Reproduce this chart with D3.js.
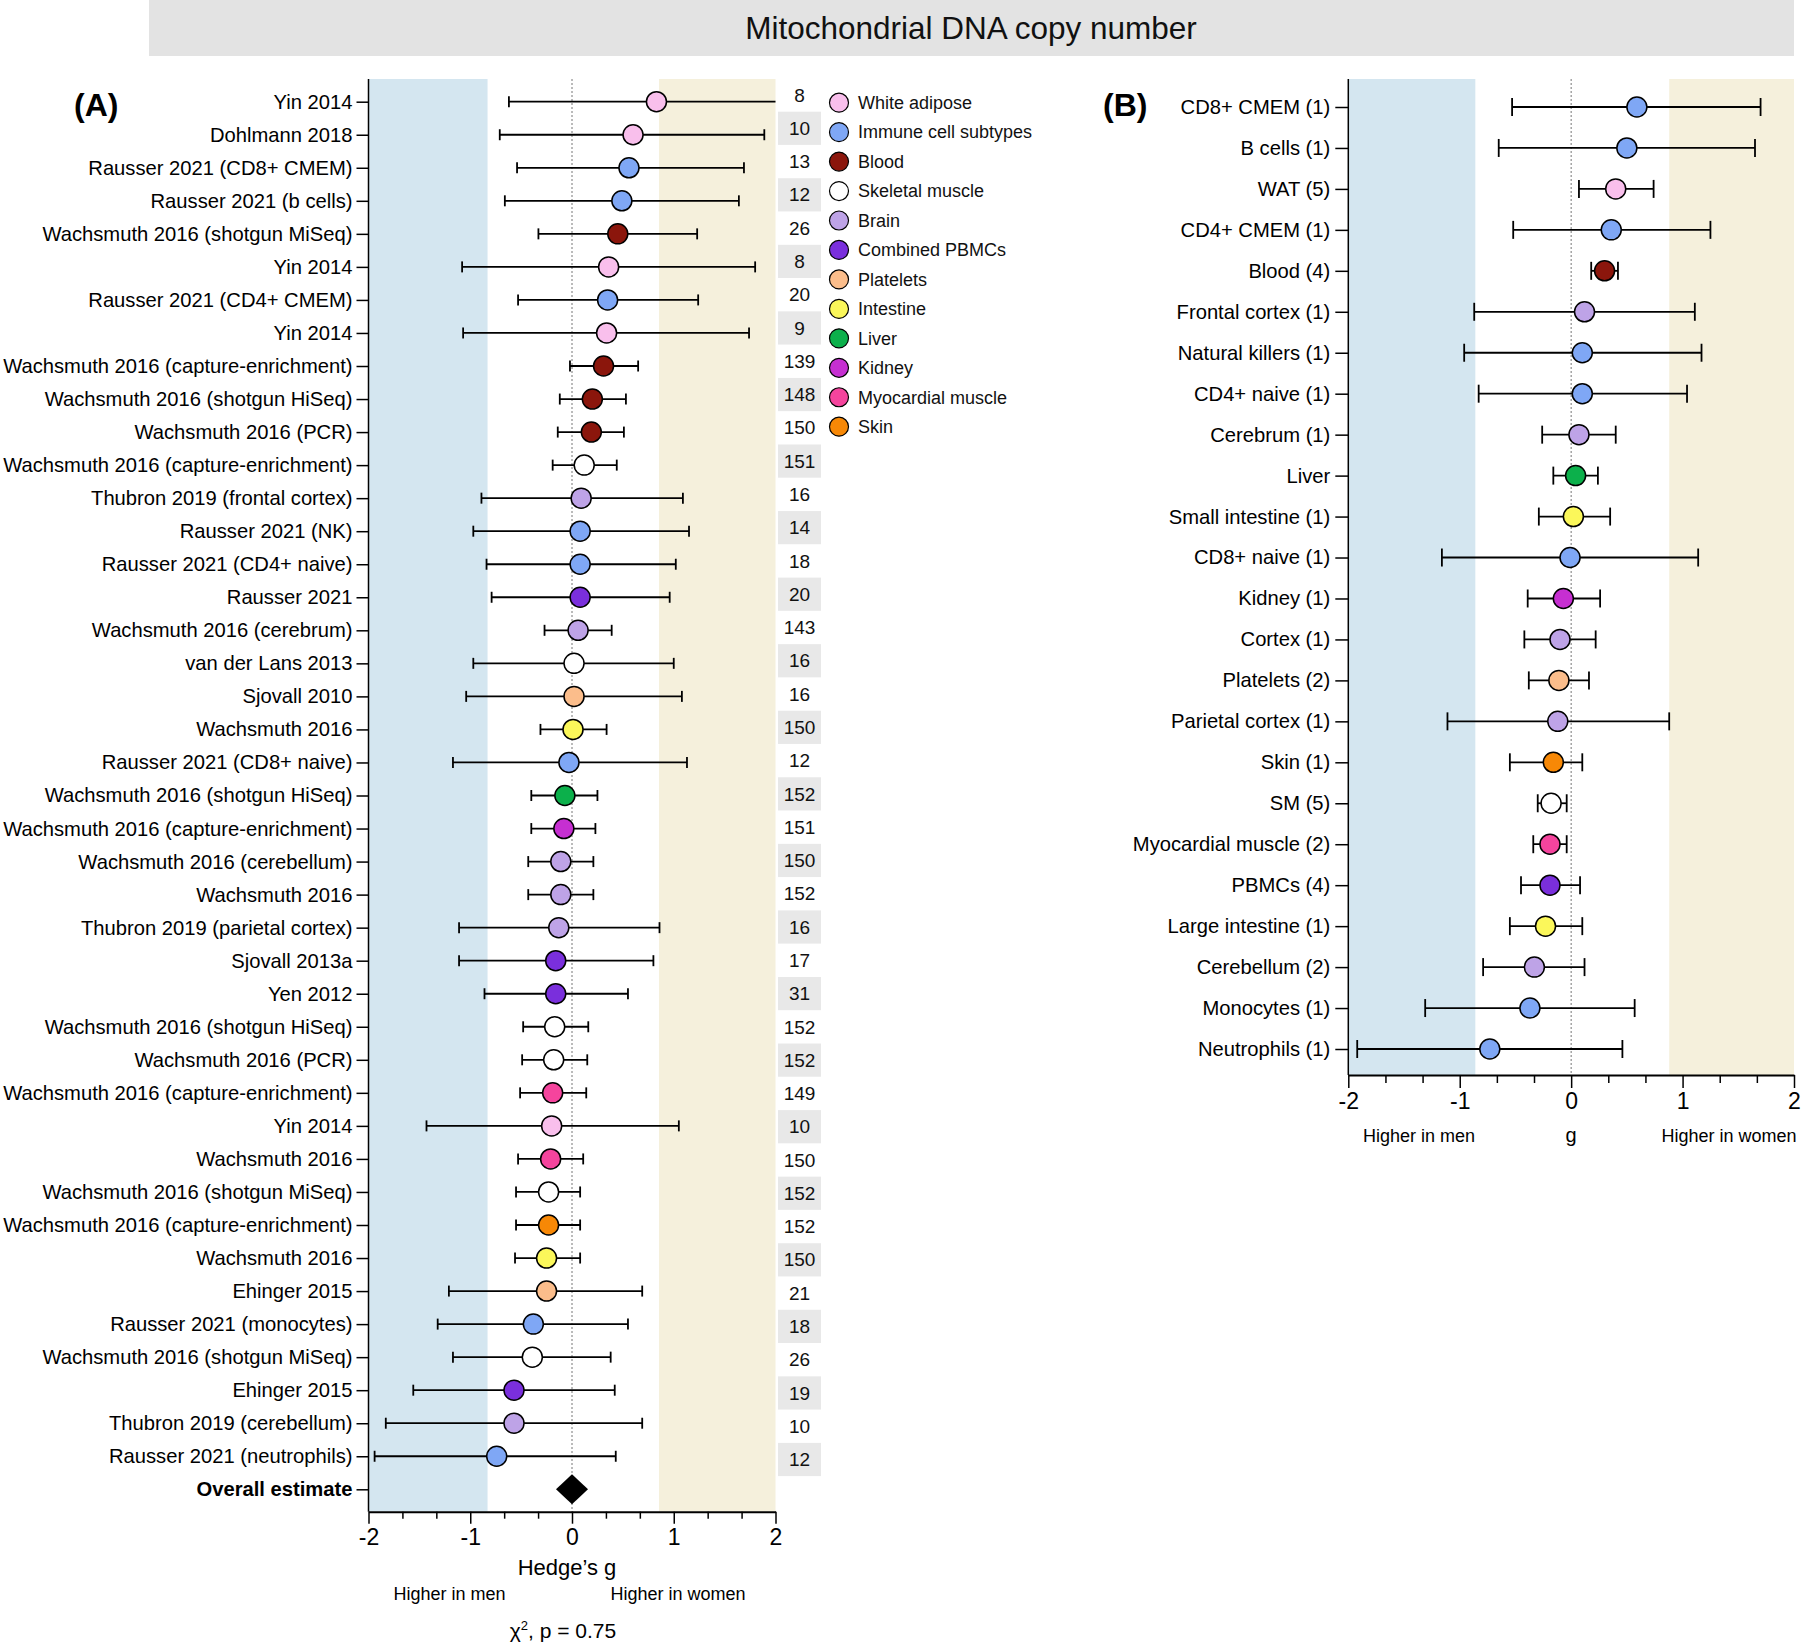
<!DOCTYPE html>
<html>
<head>
<meta charset="utf-8">
<script src="https://cdn.jsdelivr.net/npm/d3@7"></script>
<style>
  html, body { margin: 0; padding: 0; background: #fff; }
  svg { display: block; font-family: "Liberation Sans", Arial, Helvetica, sans-serif; }
</style>
</head>
<body>
<svg id="chart" width="1801" height="1643"></svg>
<script>
// ---------- DATA ----------
const tissues = ["White adipose","Immune cell subtypes","Blood","Skeletal muscle","Brain","Combined PBMCs","Platelets","Intestine","Liver","Kidney","Myocardial muscle","Skin"];
const tissueColors = ["#f9bfec","#7fa7f5","#8b160c","#ffffff","#bea3e7","#7a2fdc","#fbbd8b","#fbf75a","#0cb04b","#c62fd1","#f5449d","#f78806"];

const studyLabels = [
  "Yin 2014","Dohlmann 2018","Rausser 2021 (CD8+ CMEM)","Rausser 2021 (b cells)","Wachsmuth 2016 (shotgun MiSeq)",
  "Yin 2014","Rausser 2021 (CD4+ CMEM)","Yin 2014","Wachsmuth 2016 (capture-enrichment)","Wachsmuth 2016 (shotgun HiSeq)",
  "Wachsmuth 2016 (PCR)","Wachsmuth 2016 (capture-enrichment)","Thubron 2019 (frontal cortex)","Rausser 2021 (NK)","Rausser 2021 (CD4+ naive)",
  "Rausser 2021","Wachsmuth 2016 (cerebrum)","van der Lans 2013","Sjovall 2010","Wachsmuth 2016",
  "Rausser 2021 (CD8+ naive)","Wachsmuth 2016 (shotgun HiSeq)","Wachsmuth 2016 (capture-enrichment)","Wachsmuth 2016 (cerebellum)","Wachsmuth 2016",
  "Thubron 2019 (parietal cortex)","Sjovall 2013a","Yen 2012","Wachsmuth 2016 (shotgun HiSeq)","Wachsmuth 2016 (PCR)",
  "Wachsmuth 2016 (capture-enrichment)","Yin 2014","Wachsmuth 2016","Wachsmuth 2016 (shotgun MiSeq)","Wachsmuth 2016 (capture-enrichment)",
  "Wachsmuth 2016","Ehinger 2015","Rausser 2021 (monocytes)","Wachsmuth 2016 (shotgun MiSeq)","Ehinger 2015",
  "Thubron 2019 (cerebellum)","Rausser 2021 (neutrophils)"
];
const studyTissue = [0,0,1,1,2, 0,1,0,2,2, 2,3,4,1,1, 5,4,3,6,7, 1,8,9,4,4, 4,5,5,3,3, 10,0,10,3,11, 7,6,1,3,5, 4,1];
const studyG  = [0.83,0.60,0.56,0.49,0.45, 0.36,0.35,0.34,0.31,0.20, 0.19,0.12,0.09,0.08,0.08, 0.08,0.06,0.02,0.02,0.01,
                 -0.03,-0.07,-0.08,-0.11,-0.11, -0.13,-0.16,-0.16,-0.17,-0.18, -0.19,-0.20,-0.21,-0.23,-0.23, -0.25,-0.25,-0.38,-0.39,-0.57, -0.57,-0.74];
const studyLo = [-0.62,-0.71,-0.54,-0.66,-0.33, -1.08,-0.53,-1.07,-0.02,-0.12, -0.14,-0.19,-0.89,-0.97,-0.84, -0.79,-0.27,-0.97,-1.04,-0.31,
                 -1.17,-0.40,-0.40,-0.43,-0.43, -1.11,-1.11,-0.86,-0.48,-0.49, -0.51,-1.43,-0.53,-0.55,-0.55, -0.56,-1.21,-1.32,-1.17,-1.56, -1.83,-1.94];
const studyHi = [2.30,1.89,1.69,1.64,1.23, 1.80,1.24,1.74,0.65,0.53, 0.51,0.44,1.09,1.15,1.02, 0.96,0.39,1.00,1.08,0.34,
                 1.13,0.25,0.23,0.21,0.21, 0.86,0.80,0.55,0.16,0.15, 0.14,1.05,0.11,0.08,0.08, 0.08,0.69,0.55,0.38,0.42, 0.69,0.43];
const studyN  = [8,10,13,12,26, 8,20,9,139,148, 150,151,16,14,18, 20,143,16,16,150, 12,152,151,150,152, 16,17,31,152,152, 149,10,150,152,152, 150,21,18,26,19, 10,12];
const overallLabel = "Overall estimate";
const overallG = 0.0;

const groupLabels = ["CD8+ CMEM (1)","B cells (1)","WAT (5)","CD4+ CMEM (1)","Blood (4)","Frontal cortex (1)","Natural killers (1)","CD4+ naive (1)",
  "Cerebrum (1)","Liver","Small intestine (1)","CD8+ naive (1)","Kidney (1)","Cortex (1)","Platelets (2)","Parietal cortex (1)",
  "Skin (1)","SM (5)","Myocardial muscle (2)","PBMCs (4)","Large intestine (1)","Cerebellum (2)","Monocytes (1)","Neutrophils (1)"];
const groupTissue = [1,1,0,1,2,4,1,1, 4,8,7,1,9,4,6,4, 11,3,10,5,7,4,1,1];
const groupG  = [0.59,0.50,0.40,0.36,0.30,0.12,0.10,0.10, 0.07,0.04,0.02,-0.01,-0.07,-0.10,-0.11,-0.12, -0.16,-0.18,-0.19,-0.19,-0.23,-0.33,-0.37,-0.73];
const groupLo = [-0.53,-0.65,0.07,-0.52,0.18,-0.87,-0.96,-0.83, -0.26,-0.16,-0.29,-1.16,-0.39,-0.42,-0.38,-1.11, -0.55,-0.30,-0.34,-0.45,-0.55,-0.79,-1.31,-1.92];
const groupHi = [1.70,1.65,0.74,1.25,0.42,1.11,1.17,1.04, 0.40,0.24,0.35,1.14,0.26,0.22,0.16,0.88, 0.10,-0.04,-0.04,0.08,0.10,0.12,0.57,0.46];

const xTicks = [-2,-1,0,1,2];
const xTickLabels = ["-2","-1","0","1","2"];
const shadeA = [[-2,-0.83,"#d4e6f0"],[0.855,2,"#f5f0dc"]];
const shadeB = [[-2,-0.86,"#d4e6f0"],[0.88,2,"#f5f0dc"]];

// ---------- DRAW ----------
const svg = d3.select("#chart");

// Title bar
svg.append("rect").attr("x",149).attr("y",0).attr("width",1645).attr("height",56).attr("fill","#e3e3e3");
svg.append("text").attr("x",971).attr("y",39).attr("text-anchor","middle").attr("font-size",31.5).attr("fill","#111")
  .text("Mitochondrial DNA copy number");

function panel(opts) {
  const g = svg.append("g");
  const x = d3.scaleLinear().domain([-2,2]).range(opts.xr);
  const rows = d3.range(opts.labels.length);
  const y = d3.scalePoint().domain(rows).range(opts.yr);
  const top = opts.top, bot = opts.bot;

  g.selectAll("rect.shade").data(opts.shade).join("rect")
    .attr("x", d => x(d[0])).attr("width", d => x(d[1]) - x(d[0]))
    .attr("y", top).attr("height", bot - top).attr("fill", d => d[2]);

  g.append("line").attr("x1",x(0)).attr("x2",x(0)).attr("y1",top).attr("y2",bot)
    .attr("stroke","#777").attr("stroke-width",1).attr("stroke-dasharray","2,2");

  const minor = d3.range(-2, 2.0001, 1/3).filter(v => Math.abs(v - Math.round(v)) > 1e-6);
  g.append("g").attr("transform",`translate(0,${bot})`)
    .call(d3.axisBottom(x).tickValues(minor).tickSize(opts.minorTick).tickFormat(""))
    .call(a => a.select(".domain").remove())
    .call(a => a.selectAll("line").attr("stroke","#000").attr("stroke-width",1.5));
  g.append("g").attr("transform",`translate(0,${bot})`)
    .call(d3.axisBottom(x).tickValues(xTicks).tickSize(opts.majorTick).tickPadding(opts.tickPad).tickSizeOuter(0)
      .tickFormat((d,i) => xTickLabels[i]))
    .call(a => a.select(".domain").attr("stroke","#000").attr("stroke-width",2))
    .call(a => a.selectAll("line").attr("stroke","#000").attr("stroke-width",1.5))
    .call(a => a.selectAll("text").attr("font-size",opts.tickFont).attr("fill","#000").attr("font-family","Liberation Sans, Arial, sans-serif"));

  const ya = g.append("g").attr("transform",`translate(${x(-2)},0)`)
    .call(d3.axisLeft(y).tickSize(opts.yTick).tickPadding(opts.yPad).tickSizeOuter(0).tickFormat(i => opts.labels[i]))
    .call(a => a.selectAll("line").attr("stroke","#000").attr("stroke-width",1.5))
    .call(a => a.selectAll("text").attr("font-size",20.2).attr("fill","#000").attr("font-family","Liberation Sans, Arial, sans-serif"));
  ya.select(".domain").remove();
  g.append("line").attr("x1",x(-2)).attr("x2",x(-2)).attr("y1",top).attr("y2",bot).attr("stroke","#000").attr("stroke-width",1.5);
  if (opts.boldLast) ya.selectAll(".tick").filter(i => i === opts.labels.length - 1).select("text").attr("font-weight","bold");

  const pts = rows.filter(i => opts.g[i] !== undefined);
  const eb = g.append("g");
  pts.forEach(i => {
    const lo = Math.max(-2, opts.lo[i]), hi = Math.min(2, opts.hi[i]);
    const yy = y(i);
    eb.append("line").attr("x1",x(lo)).attr("x2",x(hi)).attr("y1",yy).attr("y2",yy).attr("stroke","#000").attr("stroke-width",1.8);
    [opts.lo[i], opts.hi[i]].forEach(v => {
      if (v >= -2 && v <= 2) eb.append("line").attr("x1",x(v)).attr("x2",x(v)).attr("y1",yy - opts.cap/2).attr("y2",yy + opts.cap/2)
        .attr("stroke","#000").attr("stroke-width",1.8);
    });
  });
  g.selectAll("circle.pt").data(pts).join("circle")
    .attr("cx", i => x(opts.g[i])).attr("cy", i => y(i)).attr("r", 10)
    .attr("fill", i => tissueColors[opts.tissue[i]]).attr("stroke","#000").attr("stroke-width",1.5);

  return {x, y, g};
}

// Panel A
const labelsA = studyLabels.concat([overallLabel]);
const pA = panel({
  labels: labelsA, g: studyG, lo: studyLo, hi: studyHi, tissue: studyTissue,
  xr: [368.5, 775.5], yr: [101.7, 1489.3], top: 79, bot: 1511.7, shade: shadeA,
  minorTick: 7, majorTick: 12, tickPad: 5, tickFont: 23, yTick: 12, yPad: 4, cap: 11, boldLast: true
});
const dy = pA.y(studyLabels.length), dx = pA.x(overallG);
pA.g.append("path").attr("d", `M${dx-16},${dy} L${dx},${dy-15} L${dx+16},${dy} L${dx},${dy+15} Z`).attr("fill","#000");

// n column
const nY = d3.scalePoint().domain(d3.range(studyN.length)).range([95, 1459.5]);
const nG = svg.append("g");
nG.selectAll("rect").data(d3.range(studyN.length).filter(i => i % 2 === 1)).join("rect")
  .attr("x",778).attr("width",43).attr("y", i => nY(i) - 16.6).attr("height",33.2).attr("fill","#e8e8e8");
nG.selectAll("text").data(studyN).join("text")
  .attr("x",799.5).attr("y",(d,i) => nY(i)).attr("dy","0.35em").attr("text-anchor","middle")
  .attr("font-size",19).attr("fill","#111").text(d => d);

// legend
const lg = svg.append("g");
const lgY = d3.scalePoint().domain(d3.range(tissues.length)).range([102.7, 426.7]);
lg.selectAll("circle").data(tissues).join("circle")
  .attr("cx",839).attr("cy",(d,i) => lgY(i)).attr("r",9.5)
  .attr("fill",(d,i) => tissueColors[i]).attr("stroke","#000").attr("stroke-width",1.2);
lg.selectAll("text").data(tissues).join("text")
  .attr("x",858).attr("y",(d,i) => lgY(i)).attr("dy","0.35em").attr("font-size",18).attr("fill","#111").text(d => d);

// Panel A texts
svg.append("text").attr("x",74).attr("y",116).attr("font-size",32).attr("font-weight","bold").text("(A)");
svg.append("text").attr("x",567).attr("y",1575).attr("text-anchor","middle").attr("font-size",22).text("Hedge\u2019s g");
svg.append("text").attr("x",449.5).attr("y",1600).attr("text-anchor","middle").attr("font-size",18).text("Higher in men");
svg.append("text").attr("x",678).attr("y",1600).attr("text-anchor","middle").attr("font-size",18).text("Higher in women");
const chi = svg.append("text").attr("x",563).attr("y",1638).attr("text-anchor","middle").attr("font-size",21);
chi.append("tspan").text("\u03C7");
chi.append("tspan").attr("font-size",13).attr("dy",-8).text("2");
chi.append("tspan").attr("dy",8).text(", p = 0.75");

// Panel B
const pB = panel({
  labels: groupLabels, g: groupG, lo: groupLo, hi: groupHi, tissue: groupTissue,
  xr: [1348.3, 1794], yr: [107, 1049], top: 79, bot: 1075, shade: shadeB,
  minorTick: 8, majorTick: 13, tickPad: 5, tickFont: 23, yTick: 13, yPad: 5, cap: 18, boldLast: false
});
svg.append("text").attr("x",1103).attr("y",116).attr("font-size",32).attr("font-weight","bold").text("(B)");
svg.append("text").attr("x",1419).attr("y",1142).attr("text-anchor","middle").attr("font-size",18).text("Higher in men");
svg.append("text").attr("x",1571).attr("y",1142).attr("text-anchor","middle").attr("font-size",20).text("g");
svg.append("text").attr("x",1729).attr("y",1142).attr("text-anchor","middle").attr("font-size",18).text("Higher in women");
</script>
</body>
</html>
